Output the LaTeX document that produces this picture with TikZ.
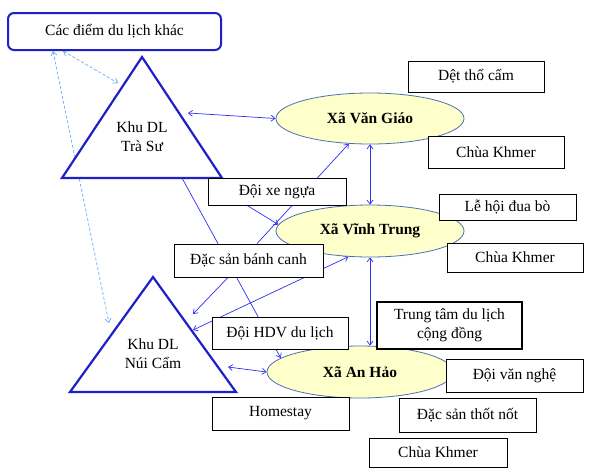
\documentclass[tikz,border=0pt]{standalone}
\usepackage{fontspec}
\setmainfont{Liberation Serif}
\newfontfamily\diagfont{Liberation Serif}
\usetikzlibrary{arrows.meta,shapes.geometric,backgrounds}
\definecolor{conn}{HTML}{3030F0}
\definecolor{tri}{HTML}{2020C8}
\definecolor{lite}{HTML}{6AAEF5}
\definecolor{ellfill}{HTML}{FFFFCC}
\definecolor{elldraw}{HTML}{4A72B0}
\begin{document}
\begin{tikzpicture}[x=1pt,y=-1pt,
  font=\diagfont\fontsize{15.5}{19}\selectfont,
  box/.style={draw=black, fill=white, line width=0.8pt, inner sep=0pt, align=center},
  thickbox/.style={box, line width=2pt},
  topbox/.style={draw=tri, fill=white, line width=2pt, rounded corners=6pt, inner sep=0pt},
  commune/.style={ellipse, draw=elldraw, fill=ellfill, line width=0.8pt, inner sep=0pt, font=\diagfont\fontsize{15.5}{19}\selectfont\bfseries},
  trishape/.style={draw=tri, fill=white, line width=2.2pt, line join=miter},
  arr/.style={draw=conn, line width=0.7pt, -{Straight Barb[length=4pt,width=6pt]}},
  dbl/.style={draw=conn, line width=0.7pt, {Straight Barb[length=4pt,width=6pt]}-{Straight Barb[length=4pt,width=6pt]}},
  dsh/.style={draw=lite, line width=0.7pt, dash pattern=on 3pt off 2pt, {Straight Barb[length=4pt,width=6pt]}-{Straight Barb[length=4pt,width=6pt]}},
]
\useasboundingbox (0,0) rectangle (593,472);

% triangles
\draw[trishape] (142,57) -- (222,178) -- (62,178) -- cycle;
\node[align=center] (tsl) at (142,137) {Khu DL\\Trà Sư};
\draw[trishape] (153,277) -- (236,392) -- (70,392) -- cycle;
\node[align=center] (ncl) at (153,354) {Khu DL\\Núi Cẩm};

% communes
\node[commune, minimum width=188pt, minimum height=51pt] (vg) at (370,118.5) {Xã Văn Giáo};
\node[commune, minimum width=188pt, minimum height=52pt] (vt) at (370,231) {Xã Vĩnh Trung};
\node[commune, minimum width=186pt, minimum height=52pt] (ah) at (360,372) {Xã An Hảo};

% boxes
\node[topbox, minimum width=213pt, minimum height=37pt] (cd) at (114.5,31.5) {Các điểm du lịch khác};
\node[box, minimum width=136pt, minimum height=31pt] (dt) at (476,76.5) {Dệt thổ cẩm};
\node[box, minimum width=136pt, minimum height=32pt] (ck1) at (496,152) {Chùa Khmer};
\node[box, minimum width=137pt, minimum height=26pt] (lh) at (507.5,207) {Lễ hội đua bò};
\node[box, minimum width=136pt, minimum height=29pt] (ck2) at (515,257.5) {Chùa Khmer};
\node[box, minimum width=138pt, minimum height=27pt] (xn) at (277,191.5) {Đội xe ngựa};
\node[box, minimum width=149pt, minimum height=33pt] (bc) at (248.5,260.5) {Đặc sản bánh canh};
\node[box, minimum width=136pt, minimum height=32pt] (hdv) at (280,333) {Đội HDV du lịch};
\node[thickbox, minimum width=145pt, minimum height=47pt] (tt) at (449.5,325.5) {Trung tâm du lịch\\cộng đồng};
\node[box, minimum width=137pt, minimum height=33pt] (vn) at (514.5,375.5) {Đội văn nghệ};
\node[box, minimum width=137pt, minimum height=34pt] (tn) at (467.5,415) {Đặc sản thốt nốt};
\node[box, minimum width=138pt, minimum height=29pt] (ck3) at (438,452.5) {Chùa Khmer};
\node[box, minimum width=137pt, minimum height=33pt] (hs) at (280.5,413.5) {Homestay};

% connector end points on the triangles
\coordinate (tsR) at (188,113);
\coordinate (tsB) at (182,178);
\coordinate (tsL) at (118,83);
\coordinate (ncR1) at (193,330);
\coordinate (ncR2) at (193,314);
\coordinate (ncR3) at (228,367);
\coordinate (ncL) at (109,323);

\begin{pgfonlayer}{background}
\fill[white] (0,0) rectangle (593,472);
\draw[dbl] (tsR) -- (vg.west);
\draw[dbl] (vg.south) -- (vt.north);
\draw[dbl] (vt.south) -- (vt.south |- ah.north);
\draw[arr] (tsB) -- (ah.170);
\draw[arr] ([xshift=-30pt]xn.south) -- (vt.176);
\draw[arr] ([xshift=8.5pt]bc.north) -- (vg.230);
\draw[dbl] (ncR1) -- (vt.230);
\draw[arr] ([xshift=-20.5pt]bc.south) -- (ncR2);
\draw[dbl] (ncR3) -- (ah.west);
\draw[dsh] ([xshift=-51.5pt]cd.south) -- (tsL);
\draw[dsh] ([xshift=-61.5pt]cd.south) -- (ncL);
\end{pgfonlayer}
\end{tikzpicture}
\end{document}
